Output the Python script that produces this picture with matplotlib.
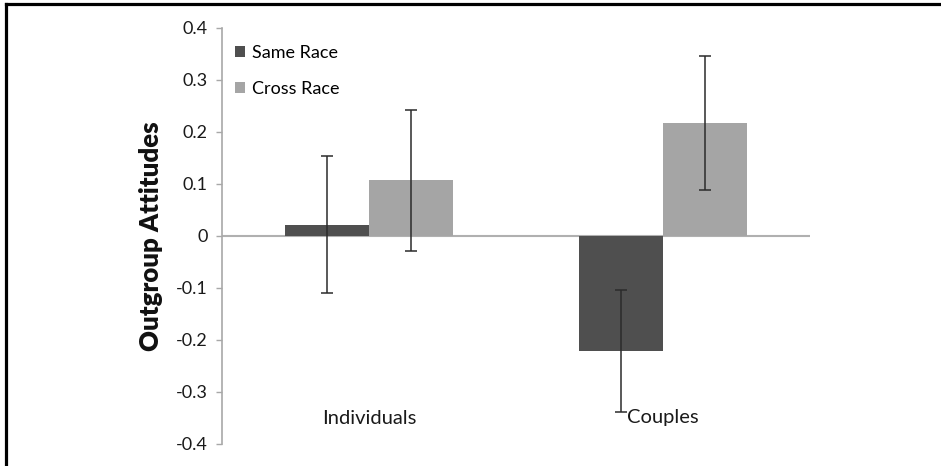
import numpy as np
import matplotlib
matplotlib.use("Agg")
import matplotlib.pyplot as plt
from matplotlib.lines import Line2D

categories = ["Individuals", "Couples"]
series = ["Same Race", "Cross Race"]
same_race = [0.022, -0.221]
cross_race = [0.107, 0.217]
same_err = [0.132, 0.117]
cross_err = [0.136, 0.129]
yticks = [-0.4, -0.3, -0.2, -0.1, 0, 0.1, 0.2, 0.3, 0.4]
ytick_labels = ["-0.4", "-0.3", "-0.2", "-0.1", "0", "0.1", "0.2", "0.3", "0.4"]

plt.rcParams['font.family'] = ['Lato', 'DejaVu Sans']

fig = plt.figure(figsize=(9.41, 4.66), dpi=100)
ax = fig.add_axes([222 / 941, 22 / 466, 588 / 941, 416 / 466])

# outer frame (left and top only, as in the reference)
fig.add_artist(Line2D([6 / 941, 6 / 941], [0, 1 - 4 / 466], color='black', lw=2.3,
                      transform=fig.transFigure))
fig.add_artist(Line2D([6 / 941, 1], [1 - 4 / 466, 1 - 4 / 466], color='black', lw=2.3,
                      transform=fig.transFigure))

x = np.arange(len(categories)) + 0.5
w = 0.286
colors = ['#4f4f4f', '#a5a5a5']

ax.bar(x - w / 2, same_race, w, color=colors[0], label=series[0])
ax.bar(x + w / 2, cross_race, w, color=colors[1], label=series[1])
ax.errorbar(x - w / 2, same_race, yerr=same_err, fmt='none', ecolor='#2b2b2b',
            elinewidth=1.1, capsize=4, capthick=1.1)
ax.errorbar(x + w / 2, cross_race, yerr=cross_err, fmt='none', ecolor='#2b2b2b',
            elinewidth=1.1, capsize=4, capthick=1.1)

ax.axhline(0, color='#b0b0b0', lw=1.5, zorder=0.5)
ax.set_xlim(0, 2)
ax.set_ylim(-0.4, 0.4)
ax.set_yticks(yticks)
ax.set_yticklabels(ytick_labels)
ax.set_xticks([])
for s in ['top', 'right', 'bottom']:
    ax.spines[s].set_visible(False)
ax.spines['left'].set_color('#a8a8a8')
ax.spines['left'].set_linewidth(1.2)
ax.tick_params(axis='y', direction='out', length=4.5, width=1, color='#a8a8a8',
               labelsize=13, labelcolor='#1a1a1a', pad=6)

for xi, name in zip(x, categories):
    ax.text(xi, -0.35, name, ha='center', va='center', fontsize=14.5, color='#1a1a1a')

ax.set_ylabel('Outgroup Attitudes', fontsize=18.5, fontweight='heavy', labelpad=9,
              color='#111111')

ax.legend(loc='upper left', bbox_to_anchor=(0.0, 0.99), frameon=False,
          handlelength=0.6, handleheight=0.6, handletextpad=0.35,
          labelspacing=1.1, fontsize=13, borderaxespad=0.3)

fig.savefig('out.png', dpi=100)
